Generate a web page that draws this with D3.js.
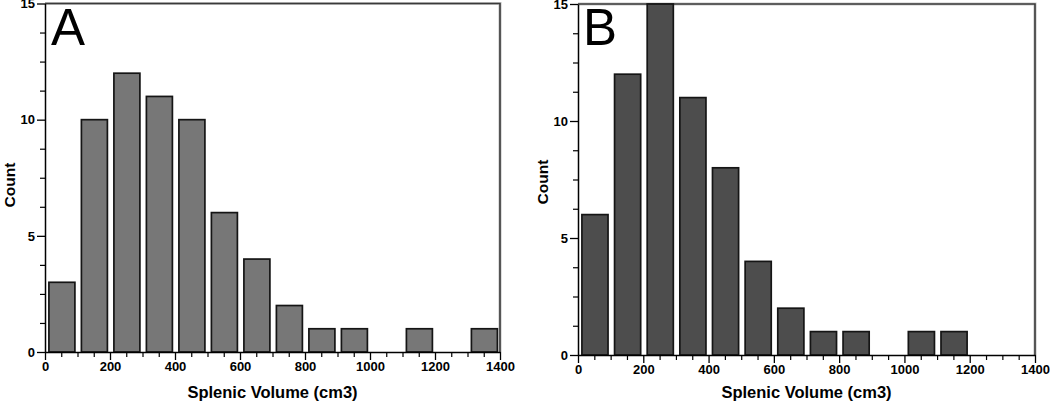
<!DOCTYPE html>
<html>
<head>
<meta charset="utf-8">
<script src="https://cdn.jsdelivr.net/npm/d3@7"></script>
<style>
  html, body { margin: 0; padding: 0; background: #fff; }
  svg { display: block; }
  .tick text { font-family: "Liberation Sans", Arial, sans-serif; font-weight: bold; font-size: 13px; fill: #000; }
</style>
</head>
<body>
<svg id="chart" width="1050" height="406"></svg>
<script>
// ---- data ----
const binStarts = [0, 100, 200, 300, 400, 500, 600, 700, 800, 900, 1000, 1100, 1200, 1300];
const binWidth = 100;
const countsA = [3, 10, 12, 11, 10, 6, 4, 2, 1, 1, 0, 1, 0, 1];
const countsB = [6, 12, 15, 11, 8, 4, 2, 1, 1, 0, 1, 1, 0, 0];
const xTickValues = [0, 200, 400, 600, 800, 1000, 1200, 1400];
const yTickValues = [0, 5, 10, 15];
const panelLabels = ["A", "B"];
const xTitle = "Splenic Volume (cm3)";
const yTitle = "Count";

const svg = d3.select("#chart");

function drawPanel(cfg) {
  const g = svg.append("g");
  const x = d3.scaleLinear().domain([0, 1400]).range([cfg.x0, cfg.x1]);
  const y = d3.scaleLinear().domain([0, 15]).range([cfg.y0, cfg.y1]);

  // frame (top and right)
  g.append("path")
    .attr("d", `M${x(0)},${y(15)}H${x(1400)}V${y(0)}`)
    .attr("fill", "none").attr("stroke", "#c8c8c8").attr("stroke-width", 3.2);
  g.append("path")
    .attr("d", `M${x(0)},${y(15)}H${x(1400)}V${y(0)}`)
    .attr("fill", "none").attr("stroke", "#3a3a3a").attr("stroke-width", 1.6);

  // bars
  g.selectAll("rect.bar").data(binStarts.map((b, i) => ({ b, v: cfg.values[i] })).filter(d => d.v > 0))
    .join("rect").attr("class", "bar")
    .attr("x", d => x(d.b + 12))
    .attr("width", d => x(d.b + 92) - x(d.b + 12))
    .attr("y", d => y(d.v))
    .attr("height", d => y(0) - y(d.v))
    .attr("fill", cfg.fill).attr("stroke", "#151515").attr("stroke-width", 1.7);

  // x axis minor ticks
  const xMinor = d3.range(0, 1401, 50).filter(v => v % 200 !== 0);
  g.append("g").attr("transform", `translate(0,${y(0)})`)
    .call(d3.axisBottom(x).tickValues(xMinor).tickSize(5).tickFormat(""))
    .call(a => a.select(".domain").remove())
    .call(a => a.selectAll("line").attr("stroke", "#000").attr("stroke-width", 1.2));
  // x axis major
  g.append("g").attr("transform", `translate(0,${y(0)})`)
    .call(d3.axisBottom(x).tickValues(xTickValues).tickSize(8).tickSizeOuter(0).tickPadding(2).tickFormat(d3.format("d")))
    .call(a => a.select(".domain").attr("stroke", "#000").attr("stroke-width", 1.5))
    .call(a => a.selectAll("line").attr("stroke", "#000").attr("stroke-width", 1.3));

  // y axis minor ticks
  const yMinor = d3.range(0, 15.01, 1.25).filter(v => v % 5 !== 0);
  g.append("g").attr("transform", `translate(${x(0)},0)`)
    .call(d3.axisLeft(y).tickValues(yMinor).tickSize(5).tickFormat(""))
    .call(a => a.select(".domain").remove())
    .call(a => a.selectAll("line").attr("stroke", "#000").attr("stroke-width", 1.2));
  g.append("g").attr("transform", `translate(${x(0)},0)`)
    .call(d3.axisLeft(y).tickValues(yTickValues).tickSize(8).tickSizeOuter(0).tickPadding(2).tickFormat(d3.format("d")))
    .call(a => a.select(".domain").attr("stroke", "#000").attr("stroke-width", 1.5))
    .call(a => a.selectAll("line").attr("stroke", "#000").attr("stroke-width", 1.3));

  // titles
  g.append("text")
    .attr("x", (x(0) + x(1400)) / 2).attr("y", 398)
    .attr("text-anchor", "middle")
    .style("font-family", "'Liberation Sans', Arial, sans-serif")
    .style("font-weight", "bold").style("font-size", "16.5px")
    .text(xTitle);
  g.append("text")
    .attr("transform", `translate(${cfg.yTitleX},${cfg.yTitleY}) rotate(-90)`)
    .attr("text-anchor", "middle")
    .style("font-family", "'Liberation Sans', Arial, sans-serif")
    .style("font-weight", "bold").style("font-size", "15.5px")
    .text(yTitle);

  // panel letter
  g.append("text")
    .attr("x", x(0) + cfg.letterDx).attr("y", 45)
    .style("font-family", "'Liberation Sans', Arial, sans-serif")
    .style("font-size", "51px")
    .text(cfg.label);
}

drawPanel({ x0: 45, x1: 500, y0: 352, y1: 3.5, values: countsA, fill: "#777777", label: panelLabels[0], letterDx: 6, yTitleX: 15, yTitleY: 185 });
drawPanel({ x0: 578, x1: 1035, y0: 355, y1: 4, values: countsB, fill: "#4d4d4d", label: panelLabels[1], letterDx: 5, yTitleX: 548, yTitleY: 182 });
</script>
</body>
</html>
